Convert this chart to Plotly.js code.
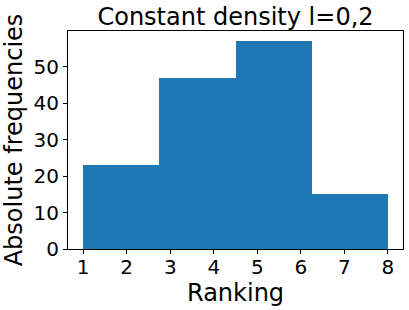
<!DOCTYPE html>
<html><head><meta charset="utf-8">
<script src="https://cdn.plot.ly/plotly-3.0.1.min.js"></script>
<style>html,body{margin:0;padding:0;background:#fff}</style>
</head><body>
<div id="chart" style="width:409px;height:310px"></div>
<script>
const binEdges = [1, 2.75, 4.5, 6.25, 8];
const counts = [23, 47, 57, 15];
const xTicks = [1, 2, 3, 4, 5, 6, 7, 8];
const yTicks = [0, 10, 20, 30, 40, 50];
const titleText = "Constant density l=0,2";
const xLabel = "Ranking";
const yLabel = "Absolute frequencies";

const centers = counts.map((_, i) => (binEdges[i] + binEdges[i + 1]) / 2);
const widths = counts.map((_, i) => binEdges[i + 1] - binEdges[i]);

const font = "DejaVu Sans";
Plotly.newPlot("chart", [{
  type: "bar",
  x: centers,
  y: counts,
  width: widths,
  marker: {color: "#1f77b4", line: {width: 0}},
  hoverinfo: "skip"
}], {
  width: 409, height: 310,
  margin: {l: 68, r: 6, t: 31, b: 61, pad: 0},
  paper_bgcolor: "#fff", plot_bgcolor: "#fff",
  showlegend: false,
  bargap: 0,
  title: {text: titleText, font: {family: font, size: 24, color: "#000"}, x: 0.5, xanchor: "center", y: 0.945, yanchor: "middle", xref: "paper"},
  annotations: [{
    text: xLabel, xref: "paper", yref: "paper", x: 0.5, y: 0,
    xanchor: "center", yanchor: "top", yshift: -29, borderpad: 0, showarrow: false,
    font: {family: font, size: 24, color: "#000"}
  }],
  xaxis: {
    range: [0.65, 8.35], tickvals: xTicks, ticktext: xTicks.map(String),
    ticks: "outside", ticklen: 4, tickwidth: 1, tickcolor: "#000",
    ticklabelstandoff: -4,
    showline: true, linecolor: "#000", linewidth: 1, mirror: true,
    showgrid: false, zeroline: false,
    tickfont: {family: font, size: 20, color: "#000"}
  },
  yaxis: {
    range: [0, 59.85], tickvals: yTicks, ticktext: yTicks.map(String),
    ticks: "outside", ticklen: 4, tickwidth: 1, tickcolor: "#000",
    showline: true, linecolor: "#000", linewidth: 1, mirror: true,
    showgrid: false, zeroline: false,
    tickfont: {family: font, size: 20, color: "#000"},
    title: {text: yLabel, font: {family: font, size: 24, color: "#000"}, standoff: 6}
  }
}, {displayModeBar: false, staticPlot: true});
</script>
</body></html>
